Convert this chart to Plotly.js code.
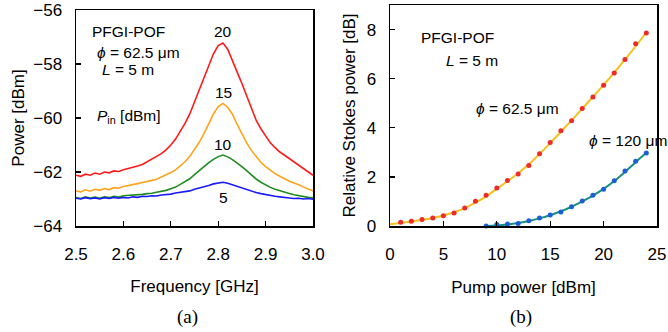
<!DOCTYPE html>
<html>
<head>
<meta charset="utf-8">
<script src="https://cdn.plot.ly/plotly-3.0.1.min.js"></script>
<style>html,body{margin:0;padding:0;background:#fff;}#chart{width:668px;height:332px;}</style>
</head>
<body>
<div id="chart"></div>
<script>
// ---- Panel (a): Brillouin gain spectra ----
const freqGHz = [2.50,2.51,2.52,2.53,2.54,2.55,2.56,2.57,2.58,2.59,2.60,2.61,2.62,2.63,2.64,2.65,2.66,2.67,2.68,2.69,2.70,2.71,2.72,2.73,2.74,2.75,2.76,2.77,2.78,2.79,2.80,2.81,2.82,2.83,2.84,2.85,2.86,2.87,2.88,2.89,2.90,2.91,2.92,2.93,2.94,2.95,2.96,2.97,2.98,2.99,3.00];
const power20 = [-62.12,-62.16,-62.08,-62.12,-62.04,-62.08,-62.00,-62.03,-61.96,-61.98,-61.92,-61.88,-61.84,-61.78,-61.72,-61.62,-61.55,-61.44,-61.32,-61.18,-61.00,-60.78,-60.50,-60.20,-59.85,-59.40,-58.90,-58.45,-58.00,-57.62,-57.32,-57.22,-57.45,-57.85,-58.30,-58.72,-59.20,-59.68,-60.08,-60.40,-60.68,-60.92,-61.10,-61.26,-61.38,-61.50,-61.62,-61.74,-61.88,-61.98,-62.12];
const power15 = [-62.70,-62.74,-62.66,-62.71,-62.64,-62.68,-62.61,-62.65,-62.58,-62.60,-62.54,-62.51,-62.47,-62.43,-62.39,-62.36,-62.31,-62.27,-62.19,-62.13,-62.02,-61.92,-61.78,-61.62,-61.42,-61.18,-60.90,-60.58,-60.22,-59.85,-59.58,-59.46,-59.60,-59.86,-60.24,-60.60,-60.92,-61.20,-61.44,-61.64,-61.80,-61.94,-62.06,-62.16,-62.26,-62.34,-62.41,-62.47,-62.56,-62.62,-62.70];
const power10 = [-62.95,-62.98,-62.92,-62.96,-62.93,-62.97,-62.92,-62.95,-62.90,-62.93,-62.88,-62.87,-62.86,-62.84,-62.83,-62.80,-62.79,-62.75,-62.72,-62.68,-62.62,-62.56,-62.46,-62.37,-62.25,-62.10,-61.94,-61.78,-61.65,-61.53,-61.43,-61.37,-61.44,-61.54,-61.66,-61.80,-61.95,-62.11,-62.26,-62.38,-62.48,-62.57,-62.64,-62.70,-62.76,-62.80,-62.84,-62.88,-62.90,-62.94,-62.96];
const power5  = [-62.97,-63.00,-62.95,-62.99,-62.96,-63.00,-62.95,-62.98,-62.94,-62.97,-62.94,-62.96,-62.92,-62.94,-62.90,-62.91,-62.88,-62.89,-62.85,-62.84,-62.82,-62.78,-62.76,-62.72,-62.70,-62.64,-62.60,-62.54,-62.50,-62.44,-62.42,-62.38,-62.42,-62.48,-62.54,-62.60,-62.66,-62.70,-62.76,-62.80,-62.84,-62.86,-62.90,-62.92,-62.95,-62.96,-62.98,-62.97,-63.00,-62.98,-63.01];
const pinLabels = ["20","15","10","5"];

// ---- Panel (b): relative Stokes power vs pump power ----
const pump625 = [1,2,3,4,5,6,7,8,9,10,11,12,13,14,15,16,17,18,19,20,21,22,23,24];
const stokes625 = [0.15,0.19,0.26,0.33,0.42,0.53,0.73,1.01,1.25,1.55,1.85,2.12,2.46,2.94,3.40,3.88,4.29,4.79,5.25,5.73,6.23,6.78,7.42,7.86];
const fitPump625 = [0,1,2,3,4,5,6,7,8,9,10,11,12,13,14,15,16,17,18,19,20,21,22,23,24];
const fitStokes625 = [0.07,0.12,0.18,0.25,0.33,0.43,0.56,0.73,0.95,1.21,1.51,1.82,2.15,2.51,2.93,3.38,3.84,4.30,4.78,5.26,5.75,6.25,6.78,7.32,7.88];
const pump120 = [9,10,11,12,13,14,15,16,17,18,19,20,21,22,23,24];
const stokes120 = [0.00,0.06,0.08,0.10,0.21,0.33,0.45,0.57,0.78,1.02,1.25,1.50,1.84,2.24,2.64,2.97];
const fitPump120 = [9,10,11,12,13,14,15,16,17,18,19,20,21,22,23,24];
const fitStokes120 = [0.00,0.02,0.06,0.12,0.20,0.31,0.44,0.60,0.78,1.00,1.24,1.51,1.83,2.20,2.60,2.98];

const sans = "Liberation Sans, Arial, sans-serif";
const serif = "Liberation Serif, Times New Roman, serif";

const traces = [
  {x: freqGHz, y: power20, xaxis:'x', yaxis:'y', mode:'lines', line:{color:'#ff1a1a', width:1.6}},
  {x: freqGHz, y: power15, xaxis:'x', yaxis:'y', mode:'lines', line:{color:'#ffa31a', width:1.6}},
  {x: freqGHz, y: power10, xaxis:'x', yaxis:'y', mode:'lines', line:{color:'#1e8c1e', width:1.6}},
  {x: freqGHz, y: power5,  xaxis:'x', yaxis:'y', mode:'lines', line:{color:'#1a1aff', width:1.6}},
  {x: fitPump625, y: fitStokes625, xaxis:'x2', yaxis:'y2', mode:'lines', line:{color:'#f7c01c', width:2, shape:'spline'}, cliponaxis:false},
  {x: pump625, y: stokes625, xaxis:'x2', yaxis:'y2', mode:'markers', marker:{color:'#ee2a2a', size:5}, cliponaxis:false},
  {x: fitPump120, y: fitStokes120, xaxis:'x2', yaxis:'y2', mode:'lines', line:{color:'#16907f', width:2, shape:'spline'}, cliponaxis:false},
  {x: pump120, y: stokes120, xaxis:'x2', yaxis:'y2', mode:'markers', marker:{color:'#1a5fd8', size:5}, cliponaxis:false}
];

const axBase = {
  showline:true, linecolor:'#000', linewidth:1.5, mirror:true,
  ticks:'inside', ticklen:5, tickwidth:1.3, tickcolor:'#000',
  showgrid:false, zeroline:false, automargin:false,
  tickfont:{family:sans, size:17, color:'#000'}
};

const W = 668, H = 332;
const px = v => v / W;
const py = v => 1 - v / H;

const ann = [];
function addText(text, x, y, size, xanchor, fam) {
  ann.push({text: text, xref:'paper', yref:'paper', x: px(x), y: py(y), xanchor: xanchor || 'center', yanchor:'middle', showarrow:false, font:{family: fam || sans, size: size, color:'#000'}});
}
// panel (a) labels
addText('PFGI-POF', 90, 32, 15.5, 'left');
addText('<i>ϕ</i> = 62.5 μm', 95, 53, 15.5, 'left');
addText('<i>L</i> = 5 m', 100, 70, 15.5, 'left');
addText('<i>P</i><sub>in</sub> [dBm]', 95, 117, 15.5, 'left');
addText(pinLabels[0], 223, 31, 15.5);
addText(pinLabels[1], 223, 92, 15.5);
addText(pinLabels[2], 223, 144, 15.5);
addText(pinLabels[3], 223, 197, 15.5);
// panel (b) labels
addText('PFGI-POF', 419, 37, 15.5, 'left');
addText('<i>L</i> = 5 m', 444, 60, 15.5, 'left');
addText('<i>ϕ</i> = 62.5 μm', 474, 108, 15.5, 'left');
addText('<i>ϕ</i> = 120 μm', 587, 140, 15.5, 'left');
// panel captions
addText('(a)', 187, 317, 19, 'center', serif);
addText('(b)', 521, 317, 19, 'center', serif);

const layout = {
  width: W, height: H,
  margin:{l:0, r:0, t:0, b:0},
  paper_bgcolor:'#fff', plot_bgcolor:'#fff',
  showlegend:false,
  xaxis: Object.assign({}, axBase, {domain:[px(76), px(313)], range:[2.5, 3.0], tickvals:[2.5,2.6,2.7,2.8,2.9,3.0], ticktext:['2.5','2.6','2.7','2.8','2.9','3.0'], ticklabelstandoff:12, anchor:'y',
    title:{text:'Frequency [GHz]', font:{family:sans, size:17, color:'#000'}, standoff:17}}),
  yaxis: Object.assign({}, axBase, {domain:[py(226), py(10)], range:[-64, -56], tickvals:[-64,-62,-60,-58,-56], ticklabelstandoff:9, anchor:'x',
    title:{text:'Power [dBm]', font:{family:sans, size:17, color:'#000'}, standoff:4}}),
  xaxis2: Object.assign({}, axBase, {domain:[px(390), px(657)], range:[0, 25], tickvals:[0,5,10,15,20,25], ticklabelstandoff:12, anchor:'y2',
    title:{text:'Pump power [dBm]', font:{family:sans, size:17, color:'#000'}, standoff:18}}),
  yaxis2: Object.assign({}, axBase, {domain:[py(226), py(5)], range:[0, 9], tickvals:[0,2,4,6,8], ticklabelstandoff:9, anchor:'x2',
    title:{text:'Relative Stokes power [dB]', font:{family:sans, size:17, color:'#000'}, standoff:6}}),
  annotations: ann
};

Plotly.newPlot('chart', traces, layout, {staticPlot:true, displayModeBar:false});
</script>
</body>
</html>
